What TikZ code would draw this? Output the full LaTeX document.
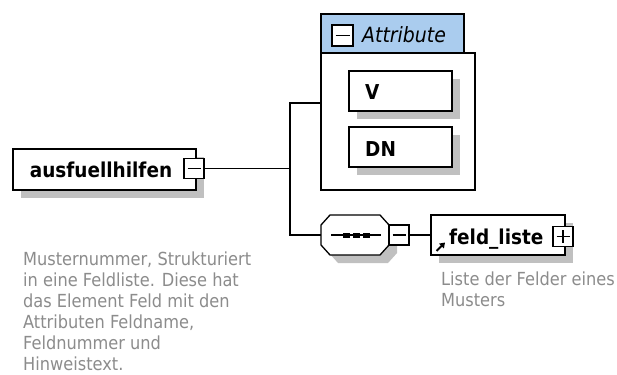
\documentclass[tikz,border=0pt]{standalone}
\usepackage{fontspec}
\setmainfont{DejaVu Sans Condensed}
\usetikzlibrary{arrows.meta,shadows}
\definecolor{hdrblue}{RGB}{170,204,238}
\definecolor{shadowgray}{RGB}{192,192,192}
\definecolor{notegray}{RGB}{140,140,140}
\tikzset{
  ln/.style={line width=1.3pt, black},
  elbox/.style={draw, line width=1.3pt, fill=white, minimum width=#1, minimum height=40, inner sep=0,
    general shadow={shadow xshift=8pt, shadow yshift=-8pt, fill=shadowgray}},
  pmbase/.style={draw, line width=1.2pt, fill=white, minimum size=#1, inner sep=0},
  pmbox/.style={pmbase=#1,
    path picture={\draw[line width=1.2pt] ([xshift=3.5pt]path picture bounding box.west) -- ([xshift=-3.5pt]path picture bounding box.east);}},
  plusbox/.style={pmbase=#1,
    path picture={\draw[line width=1.2pt] ([xshift=3.5pt]path picture bounding box.west) -- ([xshift=-3.5pt]path picture bounding box.east)
      ([yshift=-3.5pt]path picture bounding box.north) -- ([yshift=3.5pt]path picture bounding box.south);}},
  lbl/.style={font=\fontsize{20.5}{24}\selectfont\bfseries, inner sep=0, anchor=base west},
  note/.style={font=\fontsize{18}{21}\selectfont, text=notegray, inner sep=0, anchor=north west, align=left},
}
\begin{document}
\begin{tikzpicture}[x=1pt,y=-1pt]
\useasboundingbox[fill=white] (0,0) rectangle (617,374);

% Attribute group frame
\draw[ln, fill=white] (321,14) -- (464,14) -- (464,53) -- (475,53) -- (475,190) -- (321,190) -- cycle;
\draw[ln, fill=hdrblue] (321,14) rectangle (464,53);
\node[pmbox=21] (hdrm) at (342.5,35.5) {};
\node[inner sep=0, anchor=base west, font=\fontsize{21}{24}\selectfont\itshape] (attrlbl) at (362,43) {Attribute};
\coordinate (attrin) at (321,103);

% attribute boxes
\node[elbox=103] (vbox) at (400.5,91) {};
\node[lbl] (vlbl) at (365,100) {V};
\node[elbox=103] (dnbox) at (400.5,147) {};
\node[lbl] (dnlbl) at (365,156) {DN};

% root element
\node[elbox=183, minimum height=41, font=\fontsize{20.5}{24}\selectfont\bfseries, text depth=0pt, text height=15.6pt] (aus) at (104.5,169.5) {\hspace*{-7pt}ausfuellhilfen};
\node[pmbox=20] (ausm) at (194,168.5) {};

% sequence compositor
\fill[shadowgray, shift={(8,8)}] (330,215) -- (380,215) -- (389,225) -- (389,245) -- (380,255) -- (330,255) -- (321,245) -- (321,225) -- cycle;
\draw[ln, fill=white] (330,215) -- (380,215) -- (389,225) -- (389,245) -- (380,255) -- (330,255) -- (321,245) -- (321,225) -- cycle;
\node[minimum width=68, minimum height=40, inner sep=0] (seq) at (355,235) {};
\draw[ln] (331,235) -- (381,235);
\fill (343,232.5) rectangle (350,237.5);
\fill (353,232.5) rectangle (360,237.5);
\fill (363,232.5) rectangle (370,237.5);
\node[pmbox=20] (seqm) at (399,235) {};

% feld_liste
\node[elbox=134] (feld) at (498,235) {};
\node[lbl] (feldlbl) at (449,244) {feld\_liste};
\draw[line width=1.8pt, -{Triangle[length=5pt,width=6.5pt]}] (436.5,251) -- (445,242.5);
\node[plusbox=20] (feldp) at (563,236.5) {};

% connectors
\coordinate (jt) at (290,103);
\coordinate (jb) at (290,235);
\draw[ln] (ausm.east) -- (ausm.east -| jt);
\draw[ln] (attrin) -- (jt) -- (jb) -- (seq.west);
\draw[ln] (seqm.east) -- (feld.west);

% notes
\node[note] (note1) at (23,252) {Musternummer, Strukturiert\\in eine Feldliste. Diese hat\\das Element Feld mit den\\Attributen Feldname,\\Feldnummer und\\Hinweistext.};
\node[note] (note2) at (441,272) {Liste der Felder eines\\Musters};
\end{tikzpicture}
\end{document}
